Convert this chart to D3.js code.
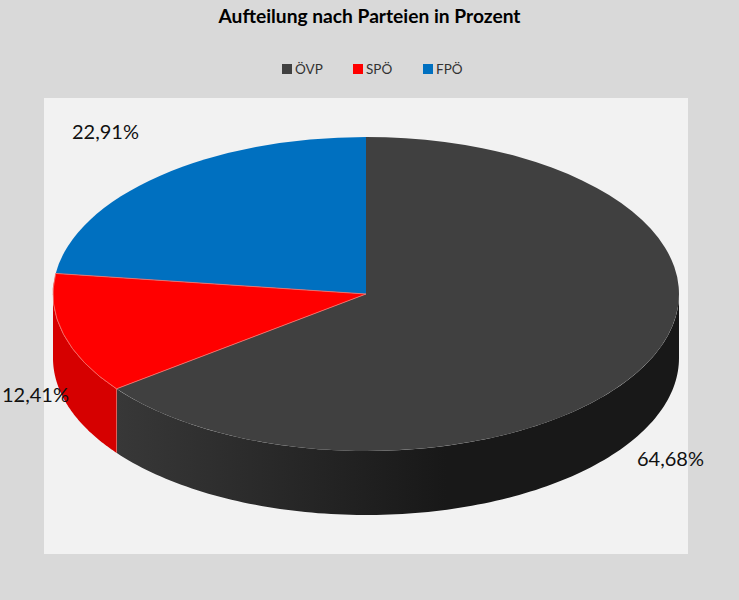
<!DOCTYPE html>
<html><head><meta charset="utf-8">
<script src="https://cdn.jsdelivr.net/npm/d3@7"></script>
<style>html,body{margin:0;padding:0;background:#d9d9d9}svg{display:block}text{font-family:Lato,"Open Sans",sans-serif}</style>
</head><body><svg id="c" width="739" height="600"></svg>
<script>
const titleText = "Aufteilung nach Parteien in Prozent";
const parties = ["ÖVP","SPÖ","FPÖ"];
const shares = [64.68,12.41,22.91];
const labels = ["64,68%","12,41%","22,91%"];
const topColors = ["#404040","#ff0000","#0070c0"];
const sideLight = ["#383838","#d60000","#005a9a"];
const sideDark = ["#181818","#d60000","#005a9a"];

const svg = d3.select("#c");
const cx=366, cy=294, R=313, tilt=157/313, depth=64;
svg.append("rect").attr("width",739).attr("height",600).attr("fill","#d9d9d9");
svg.append("rect").attr("x",44).attr("y",98).attr("width",644).attr("height",456).attr("fill","#f2f2f2");

svg.append("text").attr("x",369.5).attr("y",23).attr("text-anchor","middle")
  .attr("font-size",19.2).attr("font-weight",700).attr("fill","#000").text(titleText);

// legend
const legendX=[282,353,423];
const legendG=svg.append("g").selectAll("g").data(parties).join("g")
  .attr("transform",(d,i)=>`translate(${legendX[i]},64)`);
legendG.append("rect").attr("width",10).attr("height",10).attr("fill",(d,i)=>topColors[i]);
legendG.append("text").attr("x",13).attr("y",10).attr("font-size",13.5).attr("fill","#333").text(d=>d);

const pie=d3.pie().sort(null).value(d=>d);
const arcs=pie(shares);
const px=d3.scaleLinear().domain([-1,1]).range([cx-R,cx+R]);
const py=d3.scaleLinear().domain([-1,1]).range([cy-R*tilt,cy+R*tilt]);

const defs=svg.append("defs");
const grad=defs.append("linearGradient").attr("id","g0").attr("gradientUnits","userSpaceOnUse")
  .attr("x1",cx-250).attr("x2",cx+80).attr("y1",0).attr("y2",0);
grad.append("stop").attr("offset",0).attr("stop-color",sideLight[0]);
grad.append("stop").attr("offset",1).attr("stop-color",sideDark[0]);

// side walls (only the front half of the ellipse is visible)
const lo=Math.PI/2, hi=Math.PI*1.5;
const wall=d3.area().x(a=>px(Math.sin(a))).y0(a=>py(-Math.cos(a))).y1(a=>py(-Math.cos(a))+depth);
arcs.forEach((a,i)=>{
  const s=Math.max(a.startAngle,lo), e=Math.min(a.endAngle,hi);
  if(e<=s) return;
  const n=120, sc=d3.scaleLinear().domain([0,n]).range([s,e]);
  svg.append("path").attr("d",wall(d3.range(n+1).map(sc)))
    .attr("fill",i===0?"url(#g0)":sideDark[i]);
});
// seam on the wall
const seam=arcs[0].endAngle;
svg.append("line").attr("x1",px(Math.sin(seam))).attr("x2",px(Math.sin(seam)))
  .attr("y1",py(-Math.cos(seam))).attr("y2",py(-Math.cos(seam))+depth)
  .attr("stroke","#e0605a").attr("stroke-width",1);

// top faces
const arc=d3.arc().innerRadius(0).outerRadius(R);
const topG=svg.append("g").attr("transform",`translate(${cx},${cy}) scale(1,${tilt})`);
topG.selectAll("path.face").data(arcs).join("path").attr("class","face")
  .attr("d",arc).attr("fill",(d,i)=>topColors[i]);
// pale edge around the red slice only
topG.append("path").datum(arcs[1]).attr("d",arc).attr("fill","none")
  .attr("stroke","#f2706a").attr("stroke-width",0.9)
  .attr("vector-effect","non-scaling-stroke");

// data labels
const labelPos=[[637,466],[2,402],[72,139]];
svg.append("g").selectAll("text").data(labels).join("text")
  .attr("x",(d,i)=>labelPos[i][0]).attr("y",(d,i)=>labelPos[i][1])
  .attr("font-size",20).attr("fill","#111").text(d=>d);
</script></body></html>
